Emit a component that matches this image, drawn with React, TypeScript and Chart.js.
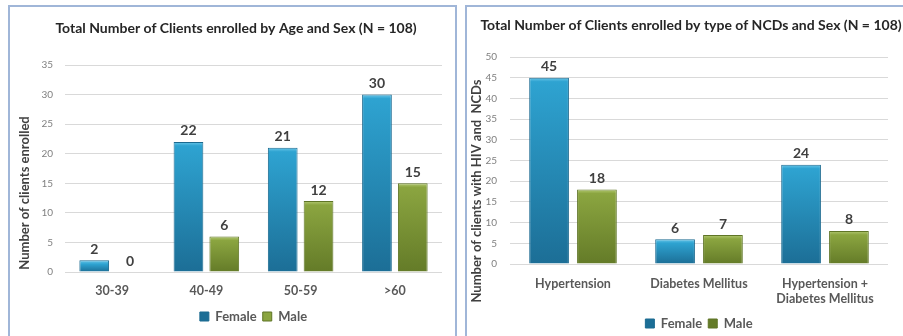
import React, { useEffect, useRef } from 'react';
import { Chart, registerables } from 'chart.js';

Chart.register(...registerables);

const FONT = 'Lato, "Noto Sans", sans-serif';
Chart.defaults.font.family = FONT;

// Age chart
const ageGroups = ['30-39', '40-49', '50-59', '>60'];
const ageFemale = [2, 22, 21, 30];
const ageMale = [0, 6, 12, 15];
const ageAxisMax = 35;

// NCD chart
const ncdTypes: (string | string[])[] = ['Hypertension', 'Diabetes Mellitus', ['Hypertension +', 'Diabetes Mellitus']];
const ncdFemale = [45, 6, 24];
const ncdMale = [18, 7, 8];
const ncdAxisMax = 50;

const seriesNames = ['Female', 'Male'];
const tickStep = 5;

const FEMALE = { hi: '#6CC8EA', top: '#2EA3D1', bottom: '#1C6E96', edge: '#1B6A90' };
const MALE = { hi: '#B3C972', top: '#8BA540', bottom: '#647B28', edge: '#5F7526' };

// Vertical gradient per bar, from its top down to the zero line
function barFill(c: typeof FEMALE) {
  return (ctx: any) => {
    const chart = ctx.chart;
    if (ctx.type !== 'data' || !chart.chartArea || !chart.scales.y) return c.top;
    const ys = chart.scales.y;
    const v = ctx.raw as number;
    const yTop = ys.getPixelForValue(v);
    const yBase = ys.getPixelForValue(0);
    if (!isFinite(yTop) || yBase - yTop < 1) return c.top;
    const g = chart.ctx.createLinearGradient(0, yTop, 0, yBase);
    g.addColorStop(0, c.hi);
    g.addColorStop(Math.min(0.5, 4 / (yBase - yTop)), c.top);
    g.addColorStop(1, c.bottom);
    return g;
  };
}

// Draws value labels, the chart heading and the rotated y-axis heading
const overlayText = {
  id: 'overlayText',
  afterDatasetsDraw(chart: any, _args: any, opts: any) {
    const ctx = chart.ctx as CanvasRenderingContext2D;
    ctx.save();
    ctx.textAlign = 'center';
    ctx.textBaseline = 'middle';
    ctx.font = `bold 14px ${FONT}`;
    ctx.fillStyle = '#404040';
    chart.data.datasets.forEach((ds: any, i: number) => {
      const meta = chart.getDatasetMeta(i);
      meta.data.forEach((bar: any, j: number) => {
        ctx.fillText(String(ds.data[j]), bar.x, bar.y - 11);
      });
    });
    ctx.font = `bold 14px ${FONT}`;
    ctx.fillStyle = '#262626';
    ctx.fillText(opts.title, opts.titleX, opts.titleY);
    ctx.translate(opts.yTitleX, opts.yTitleY);
    ctx.rotate(-Math.PI / 2);
    ctx.font = `bold 13px ${FONT}`;
    ctx.fillStyle = '#404040';
    ctx.fillText(opts.yTitle, 0, 0);
    ctx.restore();
  },
};

type PanelProps = {
  labels: (string | string[])[];
  female: number[];
  male: number[];
  yMax: number;
  title: string;
  yTitle: string;
  width: number;
  height: number;
  left: number;
  top: number;
  pad: { top: number; right: number; bottom: number; left: number };
  yWidth: number;
  yTickPad: number;
  xHeight: number;
  xTickPad: number;
  titleX: number;
  titleY: number;
  yTitleX: number;
  yTitleY: number;
};

function BarPanel(p: PanelProps) {
  const ref = useRef<HTMLCanvasElement | null>(null);
  useEffect(() => {
    if (!ref.current) return;
    const chart = new Chart(ref.current, {
      type: 'bar',
      data: {
        labels: p.labels as any,
        datasets: [
          {
            label: seriesNames[0],
            data: p.female,
            backgroundColor: barFill(FEMALE) as any,
            borderColor: FEMALE.edge,
            borderWidth: 1,
            categoryPercentage: 0.76,
            barPercentage: 0.83,
          },
          {
            label: seriesNames[1],
            data: p.male,
            backgroundColor: barFill(MALE) as any,
            borderColor: MALE.edge,
            borderWidth: 1,
            categoryPercentage: 0.76,
            barPercentage: 0.83,
          },
        ],
      },
      options: {
        responsive: false,
        animation: false,
        devicePixelRatio: 1,
        layout: { padding: p.pad },
        plugins: {
          title: { display: false },
          tooltip: { enabled: false },
          legend: {
            position: 'bottom',
            fullSize: false,
            labels: {
              boxWidth: 9,
              boxHeight: 9,
              padding: 6,
              color: '#595959',
              font: { size: 13, weight: 'bold' },
            },
          },
          overlayText: {
            title: p.title,
            titleX: p.titleX,
            titleY: p.titleY,
            yTitle: p.yTitle,
            yTitleX: p.yTitleX,
            yTitleY: p.yTitleY,
          },
        } as any,
        scales: {
          x: {
            grid: { display: false },
            border: { display: false },
            ticks: {
              padding: p.xTickPad,
              color: '#595959',
              font: { size: 12.5, weight: 'bold', lineHeight: 1.2 },
              maxRotation: 0,
              autoSkip: false,
            },
            afterFit: (s: any) => {
              s.height = p.xHeight;
            },
          },
          y: {
            min: 0,
            max: p.yMax,
            grid: { color: '#D9D9D9', drawTicks: false, lineWidth: 1 },
            border: { display: false },
            ticks: {
              stepSize: tickStep,
              padding: p.yTickPad,
              color: '#808080',
              font: { size: 10 },
            },
            afterFit: (s: any) => {
              s.width = p.yWidth;
            },
          },
        },
      },
      plugins: [overlayText],
    });
    return () => chart.destroy();
  }, []);
  return (
    <canvas
      ref={ref}
      width={p.width}
      height={p.height}
      style={{ position: 'absolute', left: p.left, top: p.top, width: p.width, height: p.height }}
    />
  );
}

const frame: React.CSSProperties = {
  position: 'absolute',
  border: '2px solid #A0B6D8',
  boxSizing: 'border-box',
  background: '#fff',
};

export default function App() {
  return (
    <div style={{ position: 'absolute', left: 0, top: 0, width: 903, height: 336, overflow: 'hidden', background: '#fff' }}>
      <div style={{ ...frame, left: 8, top: 5, width: 449, height: 345 }} />
      <div style={{ ...frame, left: 465, top: 5, width: 460, height: 345 }} />
      <BarPanel
        labels={ageGroups}
        female={ageFemale}
        male={ageMale}
        yMax={ageAxisMax}
        title="Total Number of Clients enrolled by Age and Sex (N = 108)"
        yTitle="Number of clients enrolled"
        width={445}
        height={340}
        left={10}
        top={7}
        pad={{ top: 58, right: 13, bottom: 14, left: 0 }}
        yWidth={55}
        yTickPad={12}
        xHeight={32}
        xTickPad={3}
        titleX={226}
        titleY={21}
        yTitleX={15}
        yTitleY={186}
      />
      <BarPanel
        labels={ncdTypes}
        female={ncdFemale}
        male={ncdMale}
        yMax={ncdAxisMax}
        title="Total Number of Clients enrolled by type of NCDs and Sex (N = 108)"
        yTitle="Number of clients with HIV and  NCDs"
        width={448}
        height={340}
        left={467}
        top={7}
        pad={{ top: 50, right: 27, bottom: 7, left: 0 }}
        yWidth={43}
        yTickPad={13}
        xHeight={47}
        xTickPad={4}
        titleX={224}
        titleY={18}
        yTitleX={10}
        yTitleY={184}
      />
    </div>
  );
}
